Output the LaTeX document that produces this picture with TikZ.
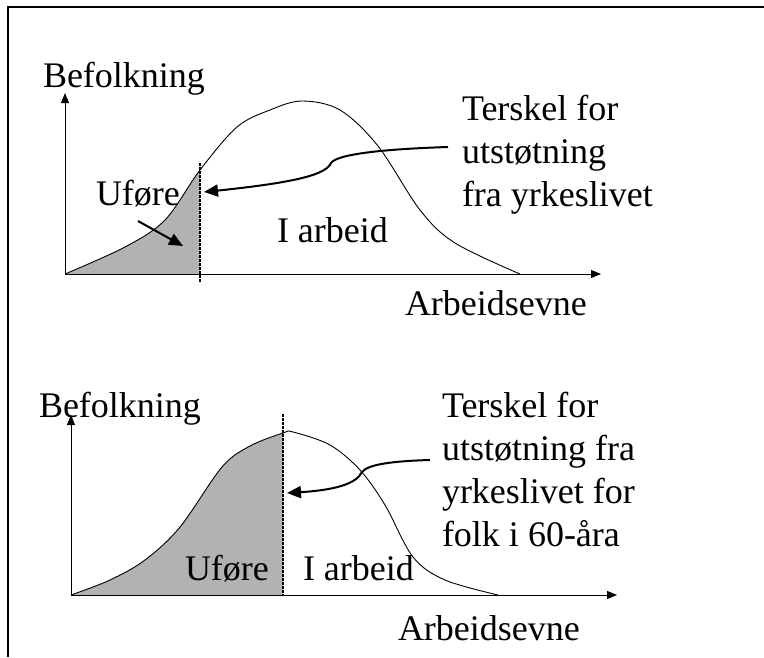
\documentclass[tikz,border=0pt]{standalone}
\usepackage{fontspec}
\setmainfont{Liberation Serif}
\usetikzlibrary{arrows.meta}
\definecolor{areagray}{RGB}{178,178,178}
\tikzset{
  lbl/.style={inner sep=0pt, outer sep=0pt, font=\fontsize{36}{43}\selectfont},
  axis/.style={line width=1pt, -{Triangle[length=10pt,width=8pt]}},
  curve/.style={line width=0.9pt},
  areafill/.style={fill=areagray, draw=none},
  thresh/.style={line width=2.5pt, dash pattern=on 2.5pt off 1.5pt},
  pointer/.style={line width=2pt, -{Triangle[length=14pt,width=12pt]}},
  frameline/.style={line width=2.5pt}
}
\def\curveA{(65,274) (125,247) (165,220) (200,170) (237,127) (270,110) (302,101) (340,110) (378,146) (420,210) (455,243) (520,274)}
\def\curveB{(71,595) (110,580) (145,560) (180,527) (222,467) (250,446) (283,433) (293,432) (330,445) (360,470) (385,505) (413,557) (445,580) (498,595)}
\begin{document}
\begin{tikzpicture}[x=1pt,y=-1pt]
\useasboundingbox (0,0) rectangle (764,657);
\draw[frameline] (8,657) -- (8,7) -- (764,7);

% ---------- top chart ----------
\coordinate (o1) at (65,274);
\coordinate (y1) at (65,93);
\coordinate (x1) at (601,274);
\coordinate (t1top) at (200,163);
\coordinate (t1bot) at (200,282);
\begin{scope}
  \clip (65,0) rectangle (200,274);
  \path[areafill] plot[smooth, tension=0.55] coordinates {\curveA} -- cycle;
\end{scope}
\draw[curve] plot[smooth, tension=0.55] coordinates {\curveA};
\draw[axis] (o1) -- (y1);
\draw[axis] (o1) -- (x1);
\draw[thresh] (t1top) -- (t1bot);
\node[lbl, anchor=base west] (bef1) at (43,87) {Befolkning};
\node[lbl, anchor=base west] (arb1) at (405,315) {Arbeidsevne};
\node[lbl, anchor=base west] (ufo1) at (96,205) {Uføre};
\node[lbl, anchor=base west] (iarb1) at (277,242) {I arbeid};
\node[lbl, anchor=north west, align=left] (ter1) at (462,95) {Terskel for\\utstøtning\\fra yrkeslivet};
\coordinate (s1) at (448,147);
\coordinate (e1) at (204,192);
\coordinate (us1) at (138,221);
\coordinate (ue1) at (183,246);
\draw[pointer] (s1) .. controls (385,149) and (337,154) .. (331,163) .. controls (326,174) and (300,182) .. (e1);
\draw[pointer] (us1) -- (ue1);

% ---------- bottom chart ----------
\coordinate (o2) at (71,595);
\coordinate (y2) at (71,415);
\coordinate (x2) at (617,595);
\coordinate (t2top) at (283,414);
\coordinate (t2bot) at (283,596);
\begin{scope}
  \clip (71,0) rectangle (283,595);
  \path[areafill] plot[smooth, tension=0.55] coordinates {\curveB} -- cycle;
\end{scope}
\draw[curve] plot[smooth, tension=0.55] coordinates {\curveB};
\draw[axis] (o2) -- (y2);
\draw[axis] (o2) -- (x2);
\draw[thresh] (t2top) -- (t2bot);
\node[lbl, anchor=base west] (bef2) at (39,417) {Befolkning};
\node[lbl, anchor=base west] (arb2) at (398,640) {Arbeidsevne};
\node[lbl, anchor=base west] (ufo2) at (185,580) {Uføre};
\node[lbl, anchor=base west] (iarb2) at (303,580) {I arbeid};
\node[lbl, anchor=north west, align=left] (ter2) at (442,392) {Terskel for\\utstøtning fra\\yrkeslivet for\\folk i 60-åra};
\coordinate (s2) at (430,460);
\coordinate (e2) at (287,493);
\draw[pointer] (s2) .. controls (395,461) and (368,464) .. (362,472) .. controls (356,484) and (335,490) .. (e2);
\end{tikzpicture}
\end{document}
